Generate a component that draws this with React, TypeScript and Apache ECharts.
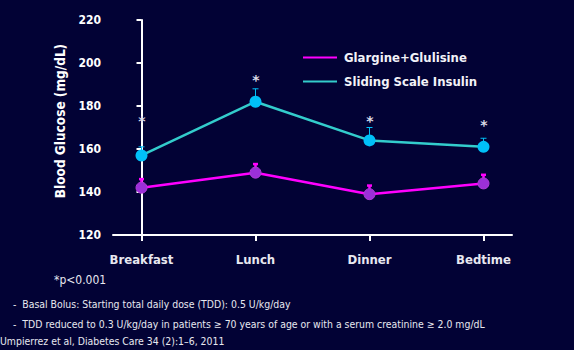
import React, { useEffect, useRef } from "react";
import * as echarts from "echarts";

// Mealtime labels along the x axis
const categories = ["Breakfast", "Lunch", "Dinner", "Bedtime"];

// Mean blood glucose (mg/dL) and upper end of the error bar for each regimen
const glargineMean = [142, 149, 139, 144];
const glargineUpper = [146, 153, 143, 148];
const slidingMean = [157, 182, 164, 161];
const slidingUpper = [161, 188, 170, 165];

// Height at which the significance asterisk sits above each mealtime
const asteriskY = [173, 192, 173, 171];

// Y axis range and step
const yMin = 120;
const yMax = 220;
const yStep = 20;

const seriesNames = ["Glargine+Glulisine", "Sliding Scale Insulin"];
const yTitle = "Blood Glucose (mg/dL)";

const footnotes = [
  "-  Basal Bolus: Starting total daily dose (TDD): 0.5 U/kg/day",
  "-  TDD reduced to 0.3 U/kg/day in patients \u2265 70 years of age or with a serum creatinine \u2265 2.0 mg/dL",
];
const citation = "Umpierrez et al, Diabetes Care 34 (2):1\u20136, 2011";
const pNote = "*p<0.001";

const BG = "#020235";
const MAGENTA = "#ff00ff";
const PURPLE = "#9b30d8";
const TEAL = "#33cccc";
const CYAN = "#00c0f8";
const LABEL_FONT = "'DejaVu Sans Condensed', Tahoma, 'DejaVu Sans', sans-serif";

function errorBarSeries(name: string, mean: number[], upper: number[], color: string, width: number, capHalf: number) {
  return {
    type: "custom",
    name: name + " error",
    z: 3,
    silent: true,
    data: mean.map((m, i) => [i, m, upper[i]]),
    renderItem: (params: any, api: any) => {
      const x = api.value(0);
      const base = api.coord([x, api.value(1)]);
      const top = api.coord([x, api.value(2)]);
      return {
        type: "group",
        children: [
          {
            type: "line",
            shape: { x1: base[0], y1: base[1], x2: top[0], y2: top[1] },
            style: { stroke: color, lineWidth: width },
          },
          {
            type: "line",
            shape: { x1: top[0] - capHalf, y1: top[1], x2: top[0] + capHalf, y2: top[1] },
            style: { stroke: color, lineWidth: width },
          },
        ],
      };
    },
  };
}

export default function App() {
  const ref = useRef<HTMLDivElement>(null);

  useEffect(() => {
    if (!ref.current) return;
    const chart = echarts.init(ref.current, null, { renderer: "svg" });
    const idx = categories.map((_, i) => i);

    chart.setOption({
      animation: false,
      backgroundColor: BG,
      grid: { left: 113, right: 62, top: 20, bottom: 115, containLabel: false },
      legend: {
        orient: "vertical",
        left: 298,
        top: 46,
        itemWidth: 34,
        itemHeight: 2,
        itemGap: 11,
        icon: "rect",
        data: [
          { name: seriesNames[0], itemStyle: { color: MAGENTA, borderWidth: 0 } },
          { name: seriesNames[1], itemStyle: { color: TEAL, borderWidth: 0 } },
        ],
        textStyle: {
          color: "#f2f2f8",
          fontWeight: "bold",
          fontSize: 13,
          fontFamily: LABEL_FONT,
          padding: [0, 0, 0, 2],
        },
      },
      xAxis: {
        type: "value",
        min: -0.25,
        max: 3.25,
        splitLine: { show: false },
        axisLine: { lineStyle: { color: "#ffffff", width: 2 } },
        axisTick: {
          customValues: idx,
          length: 6,
          lineStyle: { color: "#ffffff", width: 2 },
        },
        axisLabel: {
          customValues: idx,
          formatter: (v: number) => categories[Math.round(v)] ?? "",
          color: "#e8e8f0",
          fontWeight: "bold",
          fontSize: 13,
          fontFamily: LABEL_FONT,
          margin: 18,
        },
      },
      yAxis: {
        type: "value",
        min: yMin,
        max: yMax,
        interval: yStep,
        splitLine: { show: false },
        axisLine: { show: true, lineStyle: { color: "#ffffff", width: 2 } },
        axisTick: { show: true, length: 5, lineStyle: { color: "#ffffff", width: 2 } },
        axisLabel: {
          color: "#ffffff",
          fontWeight: "bold",
          fontSize: 12,
          fontFamily: LABEL_FONT,
          margin: 12,
        },
      },
      series: [
        errorBarSeries(seriesNames[0], glargineMean, glargineUpper, MAGENTA, 2.5, 2.5),
        errorBarSeries(seriesNames[1], slidingMean, slidingUpper, CYAN, 1, 3),
        {
          type: "line",
          name: seriesNames[0],
          z: 4,
          data: glargineMean.map((v, i) => [i, v]),
          symbol: "circle",
          symbolSize: 11,
          lineStyle: { color: MAGENTA, width: 2.5 },
          itemStyle: { color: PURPLE, borderColor: "#b03ad8", borderWidth: 1 },
        },
        {
          type: "line",
          name: seriesNames[1],
          z: 4,
          data: slidingMean.map((v, i) => [i, v]),
          symbol: "circle",
          symbolSize: 12,
          lineStyle: { color: TEAL, width: 2.5 },
          itemStyle: { color: CYAN },
        },
        {
          // significance markers drawn as plain text above each mealtime
          type: "custom",
          name: "significance",
          silent: true,
          z: 5,
          data: asteriskY.map((v, i) => [i, v]),
          renderItem: (params: any, api: any) => {
            const p = api.coord([api.value(0), api.value(1)]);
            return {
              type: "text",
              x: Math.round(p[0]),
              y: Math.round(p[1]),
              style: {
                text: "*",
                fill: "#dcdce8",
                fontSize: 14,
                fontWeight: "bold",
                fontFamily: "'DejaVu Sans', sans-serif",
                align: "center",
                verticalAlign: "middle",
              },
            };
          },
        },
      ],
      graphic: [
        {
          type: "text",
          x: 60,
          y: 121,
          rotation: Math.PI / 2,
          style: {
            text: yTitle,
            fill: "#ffffff",
            fontSize: 13.5,
            fontWeight: "bold",
            fontFamily: LABEL_FONT,
            align: "center",
            verticalAlign: "middle",
          },
        },
        {
          type: "text",
          left: 54,
          top: 274,
          style: { text: pNote, fill: "#e8e8f0", fontSize: 12, fontFamily: LABEL_FONT },
        },
        {
          type: "text",
          left: 13,
          top: 299,
          style: { text: footnotes[0], fill: "#e8e8f0", fontSize: 10.4, fontFamily: LABEL_FONT },
        },
        {
          type: "text",
          left: 13,
          top: 319,
          style: { text: footnotes[1], fill: "#e8e8f0", fontSize: 10.4, fontFamily: LABEL_FONT },
        },
        {
          type: "text",
          left: 0,
          top: 336,
          style: { text: citation, fill: "#e8e8f0", fontSize: 10.4, fontFamily: LABEL_FONT },
        },
      ],
    });

    return () => chart.dispose();
  }, []);

  return <div ref={ref} style={{ width: 574, height: 350, position: "fixed", left: 0, top: 0 }} />;
}
